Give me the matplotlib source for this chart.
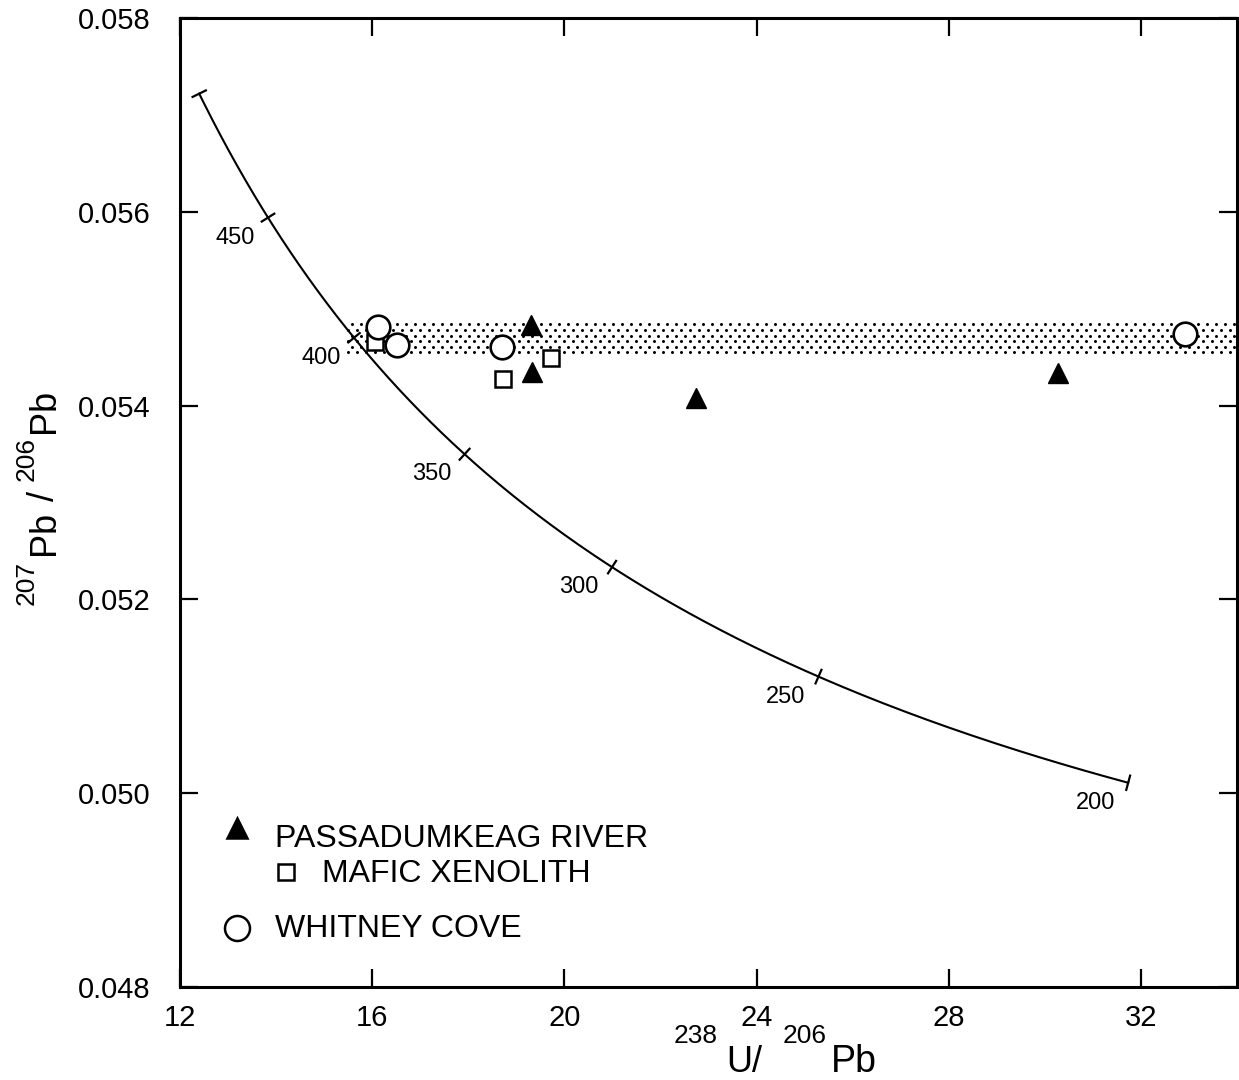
import numpy as np
import matplotlib
matplotlib.use("Agg")
import matplotlib.pyplot as plt

plt.rcParams["font.family"] = ["Liberation Sans", "DejaVu Sans"]

# Sample data: 238U/206Pb vs 207Pb/206Pb
passadumkeag_x = [19.31, 19.33, 22.73, 30.27]
passadumkeag_y = [0.05483, 0.05435, 0.05408, 0.05434]

xenolith_x = [16.06, 18.73, 19.73]
xenolith_y = [0.05466, 0.05427, 0.05449]

whitney_x = [16.12, 16.52, 18.71, 32.92]
whitney_y = [0.05481, 0.05463, 0.05460, 0.05474]

# Common-Pb band (207Pb/206Pb range)
band_x = [15.45, 34.0]
band_lo = 0.05452
band_hi = 0.05486

# Concordia: age range and labelled ages (Ma)
concordia_span = [200, 500]
age_labels = [450, 400, 350, 300, 250, 200]

x_ticks = [12, 16, 20, 24, 28, 32]
y_ticks = [0.048, 0.050, 0.052, 0.054, 0.056, 0.058]

# Decay constants (1/yr) and present-day 238U/235U
L238 = 1.55125e-10
L235 = 9.8485e-10
U_RATIO = 137.88


def tera_wasserburg(age_ma):
    t = np.asarray(age_ma, dtype=float) * 1e6
    e8 = np.expm1(L238 * t)
    e5 = np.expm1(L235 * t)
    return 1.0 / e8, e5 / e8 / U_RATIO


W, H = 1239, 1080
fig = plt.figure(figsize=(W / 100, H / 100), dpi=100)
ax = fig.add_axes([0.1453, 0.0861, 0.8531, 0.8972])
ax.set_xlim(12, 34)
ax.set_ylim(0.048, 0.058)


def stipple(x0, x1, y0, y1, col_px=9.0, row_px=5.6, dot=3.0):
    """Fill a rectangle with a staggered dot screen (spacing in pixels)."""
    inv = ax.transData.inverted()
    (px0, py0), (px1, py1) = ax.transData.transform([(x0, y0), (x1, y1)])
    pts = []
    for i, py in enumerate(np.arange(py0 + row_px / 2, py1, row_px)):
        off = 0.0 if i % 2 == 0 else col_px / 2
        for px in np.arange(px0 + off + 2, px1, col_px):
            pts.append((px, py))
    pts = inv.transform(np.array(pts))
    ax.scatter(pts[:, 0], pts[:, 1], s=(dot * 72 / fig.dpi) ** 2, c="black",
               marker="o", linewidths=0, zorder=1)


stipple(band_x[0], band_x[1], band_lo, band_hi)

# concordia curve
ages = np.linspace(concordia_span[0], concordia_span[1], 400)
cx, cy = tera_wasserburg(ages)
ax.plot(cx, cy, color="black", lw=1.5, zorder=2)


def perp_tick(age, half=8.5):
    a0 = np.array([age - 0.5, age + 0.5])
    xs, ys = tera_wasserburg(a0)
    p = ax.transData.transform(np.column_stack([xs, ys]))
    d = p[1] - p[0]
    d /= np.hypot(*d)
    n = np.array([-d[1], d[0]])
    cxy = ax.transData.transform(np.column_stack(tera_wasserburg([age])))[0]
    seg = np.array([cxy - half * n, cxy + half * n])
    seg_data = ax.transData.inverted().transform(seg)
    ax.plot(seg_data[:, 0], seg_data[:, 1], color="black", lw=1.6, zorder=2,
            solid_capstyle="butt")


for age in sorted(set(age_labels + concordia_span)):
    perp_tick(age)

for age in age_labels:
    tx, ty = tera_wasserburg([age])
    ax.annotate(str(age), (tx[0], ty[0]), xytext=(-33, -20),
                textcoords="offset pixels", ha="center", va="center",
                fontsize=17, zorder=3)

# data points
ax.plot(passadumkeag_x, passadumkeag_y, ls="none", marker="^", ms=14,
        mfc="black", mec="black", zorder=4)
ax.plot(xenolith_x, xenolith_y, ls="none", marker="s", ms=12,
        mfc="white", mec="black", mew=1.8, zorder=4)
ax.plot(whitney_x, whitney_y, ls="none", marker="o", ms=17,
        mfc="white", mec="black", mew=1.9, zorder=5)

# legend drawn by hand
leg = [
    ("^", 14, "black", 0.0539, 0.1641, 0.0899, 0.1445, "PASSADUMKEAG RIVER"),
    ("s", 12, "white", 0.1003, 0.1186, 0.1343, 0.1084, "MAFIC XENOLITH"),
    ("o", 18, "white", 0.0539, 0.0609, 0.0899, 0.0516, "WHITNEY COVE"),
]
for mk, ms, fc, mx, my, tx, ty, label in leg:
    ax.plot([mx], [my], marker=mk, ms=ms, mfc=fc, mec="black", mew=1.8,
            transform=ax.transAxes, ls="none", clip_on=False, zorder=6)
    ax.text(tx, ty, label, transform=ax.transAxes, fontsize=23,
            ha="left", va="baseline", zorder=6)

# axes styling
for s in ax.spines.values():
    s.set_linewidth(2.2)
ax.set_xticks(x_ticks)
ax.set_yticks(y_ticks)
ax.set_yticklabels([f"{v:.3f}" for v in y_ticks])
ax.tick_params(axis="both", which="major", direction="in", length=13,
               width=1.6, labelsize=21, top=True, right=True)
ax.tick_params(axis="x", pad=12)
ax.tick_params(axis="y", pad=21)


def isotope_label(segments, center, baseline, vertical=False):
    """Lay out (text, size, rise_px, gap_px) pieces along one baseline,
    centred on `center`; positions are figure pixels from the top-left."""
    renderer = fig.canvas.get_renderer()
    rot = 90 if vertical else 0
    items, total = [], 0.0
    for text, size, rise, gap in segments:
        t = fig.text(0, 0, text, fontsize=size, rotation=rot,
                     rotation_mode="anchor", ha="left", va="baseline")
        bb = t.get_window_extent(renderer)
        length = bb.height if vertical else bb.width
        total += gap
        items.append((t, rise, total))
        total += length
    start = center - total / 2
    for t, rise, pos in items:
        if vertical:
            py = (center + total / 2) - pos
            t.set_position(((baseline - rise) / W, 1 - py / H))
        else:
            t.set_position(((start + pos) / W, 1 - (baseline - rise) / H))


isotope_label([("238", 19, 29, 0), ("U/", 26, 0, 9),
               ("206", 19, 29, 20), ("Pb", 27, 0, 4)],
              center=775, baseline=1072)
isotope_label([("207", 19, 20, 0), ("Pb", 26, 0, 6), ("/", 26, 0, 10),
               ("206", 19, 20, 10), ("Pb", 26, 0, 4)],
              center=497, baseline=54, vertical=True)

fig.savefig("out.png", dpi=100)
